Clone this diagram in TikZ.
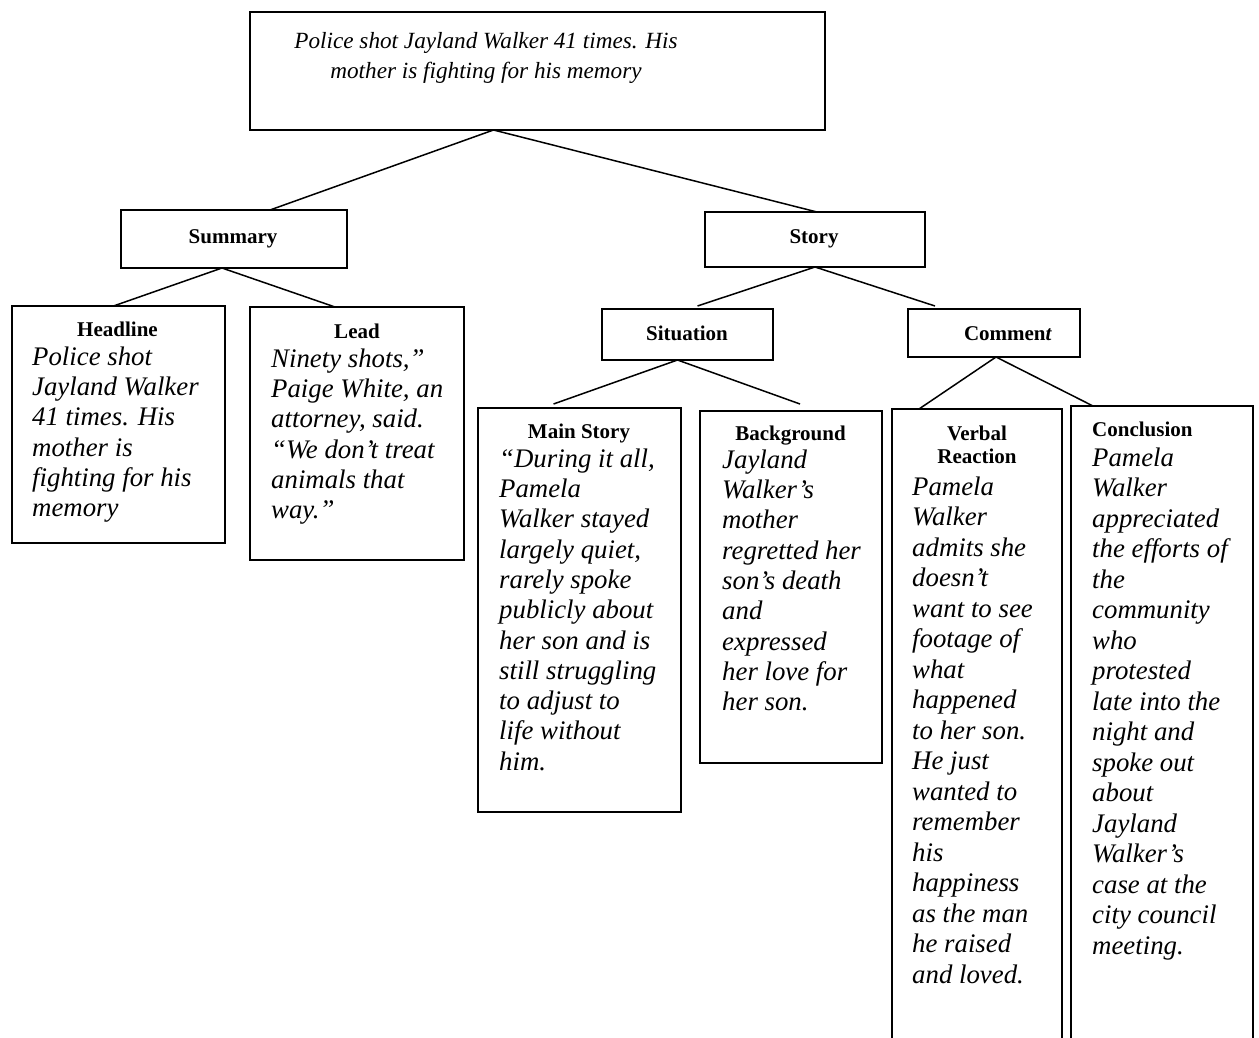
\documentclass[tikz,border=0pt]{standalone}
\usepackage{fontspec}
\setmainfont{Liberation Serif}
% strut fixing the first baseline 20pt below a text node's top edge
\newcommand\lnstrut{\rule{0pt}{20pt}}
\begin{document}
\begin{tikzpicture}[x=1pt,y=-1pt,
  box/.style={draw, line width=1.5pt, rectangle, inner sep=0pt, outer sep=0pt, anchor=north west},
  link/.style={line width=1.5pt},
  head/.style={font=\fontsize{21}{24}\selectfont\bfseries, inner sep=0pt, anchor=base},
  body/.style={font=\fontsize{26.8}{30.3}\selectfont\itshape, inner sep=0pt, align=left, anchor=north west},
  tallbody/.style={body, font=\fontsize{26.8}{30.5}\selectfont\itshape},
]
\useasboundingbox (0,0) rectangle (1259,1038);
\clip (0,0) rectangle (1259,1038);

% boxes
\node[box, minimum width=575pt, minimum height=118pt] (top) at (250,12) {};
\node[box, minimum width=226pt, minimum height=58pt] (summary) at (121,210) {};
\node[box, minimum width=220pt, minimum height=55pt] (story) at (705,212) {};
\node[box, minimum width=213pt, minimum height=237pt] (headline) at (12,306) {};
\node[box, minimum width=214pt, minimum height=253pt] (lead) at (250,307) {};
\node[box, minimum width=171pt, minimum height=51pt] (situation) at (602,309) {};
\node[box, minimum width=172pt, minimum height=48pt] (comment) at (908,309) {};
\node[box, minimum width=203pt, minimum height=404pt] (mainstory) at (478,408) {};
\node[box, minimum width=182pt, minimum height=352pt] (background) at (700,411) {};
\node[box, minimum width=170pt, minimum height=680pt] (verbal) at (892,409) {};
\node[box, minimum width=182pt, minimum height=680pt] (conclusion) at (1071,406) {};

% connectors
\draw[link] ([xshift=36pt]summary.north) -- ([xshift=-44pt]top.south) -- ([xshift=2pt]story.north);
\draw[link] ([xshift=-5pt]headline.north) -- ([xshift=-12pt]summary.south) -- ([xshift=-22pt]lead.north);
\draw[link] ([xshift=10pt,yshift=3pt]situation.north) -- (story.south) -- ([xshift=-59pt,yshift=3pt]comment.north);
\draw[link] ([xshift=-26pt,yshift=4pt]mainstory.north) -- ([xshift=-10pt]situation.south) -- ([xshift=9pt,yshift=7pt]background.north);
\draw[link] ([xshift=-58pt]verbal.north) -- ([xshift=2pt]comment.south) -- ([xshift=-69pt]conclusion.north);

% title text
\node[body, align=center, anchor=north, font=\fontsize{23.2}{30.5}\selectfont\itshape] (topT) at (486,28)
  {\lnstrut Police shot Jayland Walker 41 times. His\\ mother is fighting for his memory};

% section labels
\node[head] (summaryT) at (233,243) {Summary};
\node[head] (storyT) at (814,243) {Story};
\node[head] (situationT) at (687,340) {Situation};
\node[head] (commentT) at (1008,340) {Commen\textit{t}};
\node[head] (headlineT) at (117.5,336) {Headline};
\node[head] (leadT) at (357,338) {Lead};
\node[head] (mainT) at (579,438) {Main Story};
\node[head] (backT) at (790.5,440) {Background};
\node[head, align=center, anchor=north, font=\fontsize{21}{23.5}\selectfont\bfseries] (verbalT) at (977,424)
  {\rule{0pt}{16pt}Verbal\\ Reaction};
\node[head, anchor=base west] (conclT) at (1092,436) {Conclusion};

% body texts
\node[body] (headlineB) at (32,345)
  {\lnstrut Police shot\\ Jayland Walker\\ 41 times. His\\ mother is\\ fighting for his\\ memory};
\node[body] (leadB) at (271,347)
  {\lnstrut Ninety shots,”\\ Paige White, an\\ attorney, said.\\ “We don’t treat\\ animals that\\ way.”};
\node[body] (mainB) at (499,447)
  {\lnstrut “During it all,\\ Pamela\\ Walker stayed\\ largely quiet,\\ rarely spoke\\ publicly about\\ her son and is\\ still struggling\\ to adjust to\\ life without\\ him.};
\node[body] (backB) at (722,448)
  {\lnstrut Jayland\\ Walker’s\\ mother\\ regretted her\\ son’s death\\ and\\ expressed\\ her love for\\ her son.};
\node[tallbody] (verbalB) at (912,475)
  {\lnstrut Pamela\\ Walker\\ admits she\\ doesn’t\\ want to see\\ footage of\\ what\\ happened\\ to her son.\\ He just\\ wanted to\\ remember\\ his\\ happiness\\ as the man\\ he raised\\ and loved.};
\node[tallbody] (conclB) at (1092,446)
  {\lnstrut Pamela\\ Walker\\ appreciated\\ the efforts of\\ the\\ community\\ who\\ protested\\ late into the\\ night and\\ spoke out\\ about\\ Jayland\\ Walker’s\\ case at the\\ city council\\ meeting.};
\end{tikzpicture}
\end{document}
